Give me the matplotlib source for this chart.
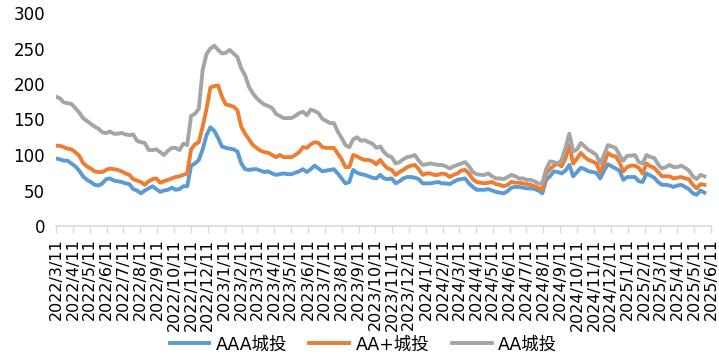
import matplotlib
matplotlib.use("Agg")
import matplotlib.pyplot as plt
import pandas as pd

plt.rcParams["font.family"] = ["DejaVu Sans", "Noto Sans CJK SC"]

# weekly observations, first week 2022/3/11
start_date = "2022-03-11"

aaa = [95, 94, 92, 92, 88, 84, 78, 70, 65, 62,
       58, 57, 60, 66, 67, 64, 63, 62, 60, 59,
       52, 50, 46, 50, 53, 56, 52, 48, 50, 51,
       54, 51, 52, 56, 56, 85, 88, 93, 108, 128,
       139, 134, 124, 112, 110, 109, 108, 105, 88, 80,
       79, 80, 80, 78, 76, 77, 74, 72, 73, 74,
       73, 73, 75, 77, 80, 76, 80, 85, 81, 77,
       78, 79, 80, 74, 67, 60, 62, 79, 75, 73,
       72, 70, 68, 67, 72, 67, 66, 67, 60, 63,
       67, 69, 69, 68, 66, 60, 60, 60, 61, 62,
       60, 60, 59, 62, 65, 66, 67, 60, 55, 51,
       51, 51, 52, 50, 48, 47, 46, 49, 54, 55,
       55, 54, 53, 53, 52, 50, 46, 65, 70, 77,
       76, 74, 78, 86, 70, 76, 82, 80, 77, 76,
       75, 67, 78, 87, 84, 81, 78, 65, 69, 69,
       69, 63, 62, 74, 71, 68, 62, 58, 58, 57,
       55, 57, 58, 55, 52, 46, 44, 50, 47]

aa_plus = [113, 113, 111, 109, 108, 104, 99, 89, 84, 81,
           77, 76, 76, 79, 81, 80, 79, 77, 74, 72,
           66, 64, 62, 58, 63, 66, 67, 61, 63, 65,
           67, 69, 70, 72, 74, 108, 115, 118, 140, 165,
           195, 197, 198, 182, 171, 170, 168, 163, 140, 130,
           122, 114, 110, 106, 104, 103, 100, 97, 100, 97,
           97, 97, 100, 104, 111, 110, 115, 118, 117, 111,
           110, 110, 110, 102, 94, 83, 83, 100, 98, 95,
           93, 93, 91, 87, 93, 86, 81, 79, 72, 76,
           79, 83, 85, 86, 80, 72, 74, 74, 72, 72,
           74, 73, 69, 72, 74, 78, 79, 74, 66, 62,
           61, 60, 61, 62, 59, 58, 56, 58, 62, 61,
           61, 60, 59, 58, 56, 54, 51, 74, 80, 85,
           88, 84, 95, 114, 88, 95, 103, 97, 93, 91,
           88, 76, 88, 103, 99, 98, 90, 77, 83, 85,
           85, 82, 74, 88, 84, 82, 76, 70, 70, 70,
           67, 68, 69, 67, 66, 58, 53, 59, 58]

aa = [182, 180, 174, 173, 172, 166, 160, 152, 148, 144,
      140, 137, 132, 131, 133, 130, 130, 131, 129, 128,
      129, 120, 118, 117, 107, 107, 108, 104, 100, 106,
      110, 110, 107, 116, 114, 155, 158, 165, 220, 242,
      250, 254, 248, 243, 244, 248, 243, 238, 222, 212,
      196, 187, 180, 175, 171, 169, 166, 158, 155, 152,
      152, 152, 155, 159, 161, 156, 164, 162, 159, 151,
      148, 145, 145, 133, 124, 114, 111, 122, 125, 120,
      121, 118, 116, 110, 112, 104, 99, 97, 88, 90,
      94, 97, 98, 100, 92, 86, 87, 88, 87, 86,
      86, 84, 81, 84, 86, 88, 90, 84, 76, 73,
      72, 72, 74, 70, 67, 67, 66, 69, 72, 70,
      67, 67, 65, 65, 63, 60, 60, 80, 91, 90,
      88, 93, 110, 130, 105, 108, 117, 112, 107, 104,
      100, 88, 100, 114, 112, 110, 100, 92, 99, 99,
      100, 90, 88, 100, 97, 96, 87, 81, 83, 86,
      83, 83, 85, 82, 78, 70, 66, 72, 70]

series_names = ["AAA城投", "AA+城投", "AA城投"]
colors = ["#5B9BD5", "#ED7D31", "#A5A5A5"]

dates = pd.date_range(start_date, periods=len(aaa), freq="7D")
month_ticks = pd.date_range("2022-03-11", "2025-06-11", freq=pd.DateOffset(months=1))
tick_labels = [f"{d.year}/{d.month}/{d.day}" for d in month_ticks]

fig = plt.figure(figsize=(7.19, 3.55), dpi=100)
ax = fig.add_axes([56 / 719, 129 / 355, 655 / 719, 213 / 355])

for vals, name, c in zip([aaa, aa_plus, aa], series_names, colors):
    ax.plot(dates, vals, color=c, lw=2.8, label=name, solid_joinstyle="round")

ax.set_ylim(0, 300)
ax.set_yticks(range(0, 301, 50))
ax.set_xlim(month_ticks[0], month_ticks[-1])
ax.set_xticks(month_ticks)
ax.set_xticklabels(tick_labels, rotation=90, fontsize=11.5, va="top", ha="center")
ax.tick_params(axis="y", length=0, labelsize=12, pad=8)
ax.tick_params(axis="x", length=5, color="#D9D9D9", width=1, pad=4)

for s in ["top", "right", "left"]:
    ax.spines[s].set_visible(False)
ax.spines["bottom"].set_color("#D9D9D9")
ax.spines["bottom"].set_linewidth(1.2)

fig.legend(loc="center", bbox_to_anchor=(0.505, 0.03), ncol=3, frameon=False,
           fontsize=12.5, handlelength=2.3, columnspacing=1.3, handletextpad=0.35,
           borderpad=0)

fig.savefig("out.png", dpi=100)
